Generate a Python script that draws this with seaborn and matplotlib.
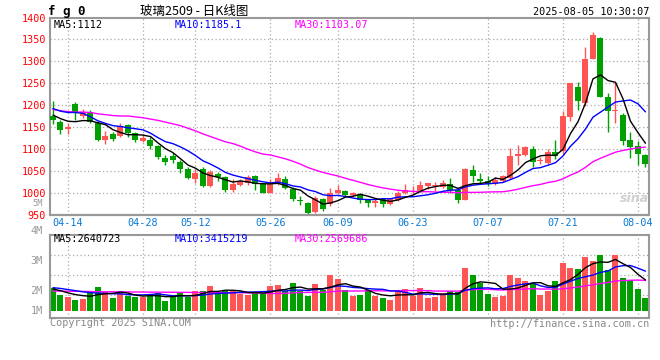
import numpy as np
import pandas as pd
import matplotlib
matplotlib.use("Agg")
import matplotlib.pyplot as plt
import seaborn as sns

# ---------------- data ----------------
dates = ["04-10", "04-11", "04-14", "04-15", "04-16", "04-17", "04-18", "04-21", "04-22", "04-23",
         "04-24", "04-25", "04-28", "04-29", "04-30", "05-06", "05-07", "05-08", "05-09", "05-12",
         "05-13", "05-14", "05-15", "05-16", "05-19", "05-20", "05-21", "05-22", "05-23", "05-26",
         "05-27", "05-28", "05-29", "05-30", "06-03", "06-04", "06-05", "06-06", "06-09", "06-10",
         "06-11", "06-12", "06-13", "06-16", "06-17", "06-18", "06-19", "06-20", "06-23", "06-24",
         "06-25", "06-26", "06-27", "06-30", "07-01", "07-02", "07-03", "07-04", "07-07", "07-08",
         "07-09", "07-10", "07-11", "07-14", "07-15", "07-16", "07-17", "07-18", "07-21", "07-22",
         "07-23", "07-24", "07-25", "07-28", "07-29", "07-30", "07-31", "08-01", "08-04", "08-05"]

opens = [1174, 1162, 1145, 1203, 1176, 1184, 1160, 1121, 1134, 1130,
         1155, 1136, 1119, 1121, 1106, 1079, 1084, 1070, 1055, 1032,
         1054, 1015, 1043, 1036, 1005, 1018, 1021, 1038, 1019, 1000,
         1021, 1031, 1008, 983, 977, 956, 985, 974, 998, 1003,
         994, 996, 983, 977, 985, 975, 984, 998, 1005, 1004,
         1016, 1015, 1013, 1019, 1006, 984, 1051, 1032, 1027, 1020,
         1027, 1034, 1084, 1085, 1099, 1072, 1068, 1093, 1095, 1172,
         1242, 1205, 1306, 1354, 1219, 1186, 1177, 1120, 1106, 1085]
highs = [1210, 1165, 1159, 1208, 1191, 1188, 1163, 1140, 1138, 1158,
         1156, 1139, 1133, 1127, 1108, 1086, 1090, 1074, 1058, 1054,
         1058, 1051, 1046, 1039, 1030, 1032, 1040, 1040, 1021, 1030,
         1044, 1038, 1012, 993, 978, 993, 988, 1011, 1017, 1007,
         1002, 998, 985, 987, 988, 987, 1004, 1020, 1014, 1026,
         1023, 1025, 1028, 1034, 1008, 1057, 1063, 1045, 1038, 1036,
         1040, 1102, 1108, 1106, 1106, 1082, 1100, 1120, 1186, 1251,
         1252, 1333, 1367, 1355, 1227, 1252, 1182, 1138, 1117, 1088]
lows = [1156, 1135, 1133, 1167, 1170, 1160, 1119, 1110, 1118, 1128,
        1127, 1115, 1116, 1100, 1077, 1062, 1068, 1044, 1031, 1021,
        1013, 1012, 1027, 1002, 1002, 1016, 1018, 1005, 998, 998,
        1017, 1008, 980, 971, 952, 953, 958, 970, 996, 990,
        990, 976, 968, 968, 968, 972, 981, 996, 996, 1002,
        1008, 1004, 1010, 999, 977, 982, 1025, 1021, 1014, 1018,
        1025, 1032, 1063, 1083, 1058, 1066, 1065, 1076, 1089, 1163,
        1189, 1197, 1305, 1218, 1138, 1160, 1108, 1078, 1062, 1059]
closes = [1165, 1143, 1150, 1181, 1184, 1162, 1120, 1129, 1123, 1153,
          1136, 1121, 1124, 1106, 1081, 1070, 1075, 1055, 1034, 1045,
          1015, 1046, 1035, 1005, 1020, 1027, 1035, 1019, 1000, 1019,
          1033, 1010, 985, 981, 953, 988, 962, 998, 1007, 994,
          998, 983, 977, 981, 974, 985, 999, 1007, 1007, 1017,
          1021, 1017, 1022, 1006, 982, 1053, 1038, 1026, 1020, 1029,
          1038, 1084, 1088, 1104, 1070, 1074, 1093, 1083, 1174, 1250,
          1209, 1306, 1360, 1219, 1186, 1189, 1118, 1104, 1088, 1065]
# volume in millions
volumes = [2.07, 1.41, 1.26, 0.96, 1.05, 1.80, 2.16, 1.65, 1.14, 1.65,
           1.32, 1.26, 1.20, 1.32, 1.62, 0.90, 1.32, 1.65, 1.20, 1.80,
           1.77, 2.22, 1.68, 1.74, 1.77, 1.50, 1.44, 1.71, 1.50, 2.22,
           2.31, 1.80, 2.52, 1.77, 1.35, 2.40, 1.86, 3.21, 2.82, 1.86,
           1.32, 1.41, 1.86, 1.32, 1.14, 0.96, 1.77, 1.95, 1.32, 2.04,
           1.14, 1.23, 1.62, 1.77, 1.68, 3.84, 3.21, 2.46, 1.50, 1.23,
           1.32, 3.21, 2.94, 2.67, 2.40, 1.41, 1.77, 2.67, 4.29, 3.84,
           3.75, 4.83, 4.47, 5.04, 3.66, 5.04, 2.94, 2.76, 1.95, 1.14]

# moving-average values before enough history is in view
ma5_head = [1177, 1169, 1163, 1162]
ma10_head = [1192, 1186, 1183, 1183, 1181, 1173, 1164, 1158, 1153]
ma30_head = [1190, 1187, 1185, 1184, 1184, 1183, 1180, 1178, 1176, 1175,
             1175, 1173, 1171, 1168, 1165, 1161, 1157, 1153, 1147, 1141,
             1134, 1128, 1122, 1116, 1112, 1106, 1099, 1093, 1088]
vma5_head = [1.95, 1.80, 1.60, 1.45]
vma10_head = [2.07, 2.00, 1.90, 1.80, 1.70, 1.62, 1.58, 1.55, 1.52]
vma30_head = [1.77, 1.76, 1.75, 1.74, 1.73, 1.72, 1.71, 1.70, 1.70, 1.69,
              1.69, 1.68, 1.68, 1.67, 1.67, 1.66, 1.66, 1.65, 1.65, 1.64,
              1.64, 1.63, 1.63, 1.62, 1.62, 1.61, 1.60, 1.59, 1.58]

tick_dates = ["04-14", "04-28", "05-12", "05-26", "06-09", "06-23", "07-07", "07-21", "08-04"]
price_ticks = [950, 1000, 1050, 1100, 1150, 1200, 1250, 1300, 1350, 1400]
vol_labels = ["4M", "3M", "2M", "1M"]
vol_label_values = [7.2, 4.5, 1.8, 0.0]
vol_grid = [1.41, 3.21, 5.01]

title_text = "玻璃2509 - 日K线图"
code_text = "f g 0"
time_text = "2025-08-05 10:30:07"
price_ma_text = ["MA5:1112", "MA10:1185.1", "MA30:1103.07"]
vol_ma_text = ["MA5:2640723", "MA10:3415219", "MA30:2569686"]

# ---------------- build frame ----------------
df = pd.DataFrame({"date": dates, "open": opens, "high": highs, "low": lows,
                   "close": closes, "vol": volumes})
df["i"] = np.arange(len(df))


def rolling_with_head(series, n, head):
    r = series.rolling(n).mean().values.copy()
    r[:len(head)] = head
    return r


df["ma5"] = rolling_with_head(df["close"], 5, ma5_head)
df["ma10"] = rolling_with_head(df["close"], 10, ma10_head)
df["ma30"] = rolling_with_head(df["close"], 30, ma30_head)
df["vma5"] = rolling_with_head(df["vol"], 5, vma5_head)
df["vma10"] = rolling_with_head(df["vol"], 10, vma10_head)
df["vma30"] = rolling_with_head(df["vol"], 30, vma30_head)

RED = "#ff5555"
GREEN = "#00a000"
df["color"] = np.where(df["close"] >= df["open"], RED, GREEN)

# ---------------- figure ----------------
sns.set_style("white")
plt.rcParams["font.family"] = ["DejaVu Sans Mono", "Noto Sans CJK SC"]

W, H = 660, 360
fig = plt.figure(figsize=(W / 100, H / 100), dpi=100)
fig.patch.set_facecolor("white")


def fx(px):
    return px / W


def fy(py):
    return 1 - py / H


ax1 = fig.add_axes([fx(50), fy(214.5), fx(599), (214.5 - 17.5) / H])
ax2 = fig.add_axes([fx(50), fy(318), fx(599), (318 - 234.7) / H])

GRID = "#aaaaaa"
BORDER = "#999999"
dot = (0, (1, 2))

tick_pos = [dates.index(d) for d in tick_dates]
xlim = (-0.4, 79.47)

# price panel
ax1.set_xlim(*xlim)
ax1.set_ylim(950, 1400)
for p in price_ticks[1:-1]:
    ax1.axhline(p, color=GRID, lw=0.9, ls=dot, zorder=0)
for t in tick_pos:
    ax1.axvline(t, color=GRID, lw=0.9, ls=dot, zorder=0)

body_bottom = np.minimum(df["open"], df["close"])
body_h = np.maximum(np.abs(df["close"] - df["open"]), 1.2)
ax1.vlines(df["i"], df["low"], df["high"], colors=df["color"], lw=1.0, zorder=2)
ax1.bar(df["i"], body_h, bottom=body_bottom, width=0.8, color=df["color"],
        edgecolor="none", zorder=3)

sns.lineplot(x=df["i"], y=df["ma30"], ax=ax1, color="#ff00ff", lw=1.0, zorder=4)
sns.lineplot(x=df["i"], y=df["ma10"], ax=ax1, color="#0000ff", lw=1.0, zorder=4)
sns.lineplot(x=df["i"], y=df["ma5"], ax=ax1, color="black", lw=1.0, zorder=5)

ax1.set_yticks(price_ticks)
ax1.set_yticklabels([str(p) for p in price_ticks])
ax1.tick_params(axis="y", length=0, pad=3, labelcolor="red", labelsize=7.3)
ax1.set_xticks(tick_pos)
ax1.set_xticklabels(tick_dates)
ax1.tick_params(axis="x", length=0, pad=2.2, labelcolor="#0a7ad6", labelsize=7.3)
ax1.set_xlabel("")
ax1.set_ylabel("")
for s in ["left", "top", "right"]:
    ax1.spines[s].set_color(BORDER)
    ax1.spines[s].set_linewidth(1.5)
ax1.spines["bottom"].set_color(BORDER)
ax1.spines["bottom"].set_linewidth(1.6)
ax1.spines["bottom"].set_linestyle((0, (1, 1)))

# volume panel
ax2.set_xlim(*xlim)
ax2.set_ylim(-0.66, 6.84)
for v in vol_grid:
    ax2.axhline(v, color=GRID, lw=0.9, ls=dot, zorder=0)
for t in tick_pos:
    ax2.axvline(t, color=GRID, lw=0.9, ls=dot, zorder=0)
ax2.bar(df["i"], df["vol"], width=0.8, color=df["color"], edgecolor="none", zorder=2)
sns.lineplot(x=df["i"], y=df["vma30"], ax=ax2, color="#ff00ff", lw=1.0, zorder=4)
sns.lineplot(x=df["i"], y=df["vma10"], ax=ax2, color="#0000ff", lw=1.0, zorder=4)
sns.lineplot(x=df["i"], y=df["vma5"], ax=ax2, color="black", lw=1.0, zorder=5)
ax2.set_xticks([])
ax2.set_yticks([])
ax2.set_xlabel("")
ax2.set_ylabel("")
for s in ax2.spines.values():
    s.set_color(BORDER)
    s.set_linewidth(1.5)

for lab, val in zip(vol_labels, vol_label_values):
    ax2.text(-0.012, val, lab, transform=ax2.get_yaxis_transform(), ha="right",
             va="center", color="#999999", fontsize=7.4, clip_on=False)
ax1.text(-0.012, 974, "5M", transform=ax1.get_yaxis_transform(), ha="right",
         va="center", color="#999999", fontsize=6.2, clip_on=False)

# texts
fig.text(fx(48), fy(11), code_text, fontsize=9, fontweight="bold",
         family=["DejaVu Sans Mono"], ha="left", va="center", color="black")
fig.text(fx(140), fy(11), title_text, fontsize=9,
         family=["Noto Sans CJK SC", "DejaVu Sans"], ha="left", va="center", color="black")
fig.text(fx(649), fy(12), time_text, fontsize=7.3, ha="right", va="center", color="black")

ma_cols = ["black", "#0000ff", "#ff00ff"]
ma_x = [54, 175, 295]
for t, c, x in zip(price_ma_text, ma_cols, ma_x):
    fig.text(fx(x), fy(24.5), t, fontsize=7.3, color=c, ha="left", va="center")
for t, c, x in zip(vol_ma_text, ma_cols, ma_x):
    fig.text(fx(x), fy(238.5), t, fontsize=7.3, color=c, ha="left", va="center")

fig.text(fx(50), fy(323.5), "Copyright 2025 SINA.COM", fontsize=7.3, color="#888888",
         ha="left", va="center")
fig.text(fx(649), fy(324), "http://finance.sina.com.cn", fontsize=7.3, color="#888888",
         ha="right", va="center")
fig.text(fx(634), fy(199), "sina", fontsize=9, color="#d0d0d0", fontweight="bold",
         style="italic", family=["DejaVu Sans"], ha="center", va="center")

fig.savefig("out.png", dpi=100, facecolor="white")
